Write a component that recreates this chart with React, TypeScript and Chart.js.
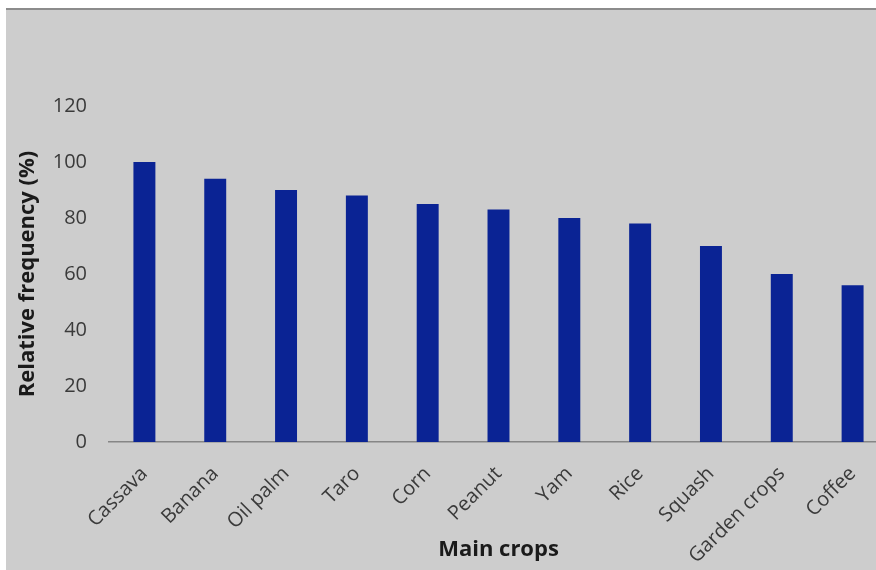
import React, { useEffect, useRef } from "react";
import { Chart, registerables } from "chart.js";

Chart.register(...registerables);

const categories = [
  "Cassava", "Banana", "Oil palm", "Taro", "Corn", "Peanut",
  "Yam", "Rice", "Squash", "Garden crops", "Coffee",
];
const frequency = [100, 94, 90, 88, 85, 83, 80, 78, 70, 60, 56];
const yTicks = [0, 20, 40, 60, 80, 100, 120];

const FONT = "'Open Sans', Lato, sans-serif";

export default function App() {
  const ref = useRef<HTMLCanvasElement | null>(null);

  useEffect(() => {
    if (!ref.current) return;
    const chart = new Chart(ref.current, {
      type: "bar",
      data: {
        labels: categories,
        datasets: [
          {
            label: "Relative frequency",
            data: frequency,
            backgroundColor: "#0a2394",
            borderWidth: 0,
            barPercentage: 0.62,
            categoryPercentage: 0.5,
          },
        ],
      },
      options: {
        responsive: false,
        animation: false,
        layout: { padding: { top: 96, right: 18, left: 0, bottom: 0 } },
        plugins: { legend: { display: false }, tooltip: { enabled: false } },
        scales: {
          x: {
            grid: { display: false, drawTicks: false },
            border: { display: true, color: "#868686", width: 1.5 },
            ticks: {
              color: "#3a3a3a",
              font: { family: FONT, size: 20 },
              maxRotation: 45,
              minRotation: 45,
              padding: 20,
              autoSkip: false,
            },
            title: {
              display: true,
              text: "Main crops",
              color: "#1a1a1a",
              font: { family: FONT, size: 22, weight: "bold" },
              padding: { top: 7, bottom: 7 },
            },
            afterFit: (s: any) => {
              s.height = 128;
            },
          },
          y: {
            min: 0,
            max: 120,
            grid: { display: false, drawTicks: false },
            border: { display: false },
            afterBuildTicks: (s: any) => {
              s.ticks = yTicks.map((v) => ({ value: v }));
            },
            ticks: {
              color: "#3a3a3a",
              font: { family: FONT, size: 20 },
              padding: 22,
            },
            title: {
              display: true,
              text: "Relative frequency (%)",
              color: "#1a1a1a",
              font: { family: FONT, size: 22, weight: "bold" },
              padding: { top: 9, bottom: 0 },
            },
            afterFit: (s: any) => {
              s.width = 103;
            },
          },
        },
      },
    });
    return () => chart.destroy();
  }, []);

  return (
    <div
      style={{
        position: "fixed",
        left: 0,
        top: 0,
        width: 876,
        height: 570,
        overflow: "hidden",
        background: "#ffffff",
      }}
    >
      <div
        style={{
          position: "absolute",
          left: 6,
          top: 8,
          width: 900,
          height: 2,
          background: "#8c8c8c",
        }}
      />
      <div
        style={{
          position: "absolute",
          left: 6,
          top: 10,
          width: 900,
          height: 560,
          background: "#cdcdcd",
        }}
      >
        <canvas
          ref={ref}
          width={900}
          height={560}
          style={{ display: "block", width: 900, height: 560 }}
        />
      </div>
    </div>
  );
}
